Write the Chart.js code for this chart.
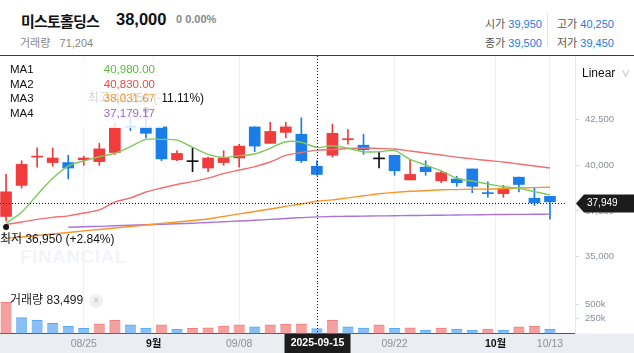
<!DOCTYPE html>
<html>
<head>
<meta charset="utf-8">
<script src="https://cdn.jsdelivr.net/npm/chart.js@4.4.1/dist/chart.umd.min.js"></script>
<style>
body { margin: 0; width: 634px; height: 353px; overflow: hidden; background: #fff; position: relative;
       font-family: "Liberation Sans", Arial, "Noto Sans CJK KR", sans-serif; }
.abs { position: absolute; white-space: nowrap; }
#name { left: 21px; top: 10px; font-size: 15px; font-weight: bold; color: #111; letter-spacing: -0.8px; }
#price { left: 116px; top: 10px; font-size: 16.5px; font-weight: bold; color: #111; }
#chg { left: 176px; top: 13px; font-size: 11px; font-weight: bold; color: #888; }
#tvol { left: 20px; top: 34px; font-size: 11px; color: #888; }
.ohlc { font-size: 11px; color: #555; }
.ohlc b { font-weight: normal; color: #1f7ae0; }
#sep { left: 547px; top: 13px; width: 1px; height: 33px; background: #e4e4e4; }
#topline { left: 0; top: 55px; width: 634px; height: 1px; background: #3a3a3a; }
#linear { left: 582px; top: 66px; font-size: 12px; color: #111; }
#linear span { color: #aaa; font-size: 9px; margin-left: 6px; }
#legend { left: 0; top: 60px; width: 163px; height: 68px; background: rgba(255,255,255,0.82); }
.ma { position: absolute; left: 10px; font-size: 11.5px; color: #111; }
.mav { position: absolute; right: 8px; font-size: 11.5px; }
#vlabel { left: 10px; top: 290px; font-size: 12px; color: #222; }
#vlabel i { font-style: normal; display: inline-block; width: 14px; height: 14px; line-height: 14px; text-align: center;
            border-radius: 7px; background: #f1f1f1; color: #bbb; font-size: 10px; margin-left: 6px; }
#wm { left: 20px; top: 246px; font-size: 19px; font-weight: bold; color: #f3f4f6; letter-spacing: 0.5px; }
canvas { position: absolute; left: 0; }
</style>
</head>
<body>
<div class="abs" id="name">미스토홀딩스</div>
<div class="abs" id="price"></div>
<div class="abs" id="chg">0 0.00%</div>
<div class="abs" id="tvol"></div>
<div class="abs ohlc" id="o1" style="left:485px;top:15px"></div>
<div class="abs ohlc" id="o2" style="left:485px;top:34px"></div>
<div class="abs" id="sep"></div>
<div class="abs ohlc" id="o3" style="left:557px;top:15px"></div>
<div class="abs ohlc" id="o4" style="left:557px;top:34px"></div>
<div class="abs" id="topline"></div>
<div class="abs" id="wm">FINANCIAL</div>
<canvas id="main" width="634" height="227" style="top:56px"></canvas>
<canvas id="vol" width="634" height="70" style="top:283px"></canvas>
<div class="abs" id="linear">Linear<span>&#8744;</span></div>
<div class="abs" id="legend"></div>
<div class="abs" id="vlabel"></div>
<script>
// trading days shown
const dates = ['2025-08-18', '2025-08-19', '2025-08-20', '2025-08-21', '2025-08-22',
    '2025-08-25', '2025-08-26', '2025-08-27', '2025-08-28', '2025-08-29',
    '2025-09-01', '2025-09-02', '2025-09-03', '2025-09-04', '2025-09-05',
    '2025-09-08', '2025-09-09', '2025-09-10', '2025-09-11', '2025-09-12',
    '2025-09-15', '2025-09-16', '2025-09-17', '2025-09-18', '2025-09-19',
    '2025-09-22', '2025-09-23', '2025-09-24', '2025-09-25', '2025-09-26',
    '2025-09-29', '2025-09-30', '2025-10-01', '2025-10-02', '2025-10-10', '2025-10-13'];

const open  = [37200, 38900, 40450, 40150, 40150, 40300, 40200, 40700, 42100, 42100, 42100, 40300, 40200, 39850, 40150, 40400, 42100, 41200, 41800, 41700,
               39950, 40550, 41400, 41100, 40350, 40550, 39200, 39900, 39150, 39250, 39800, 38500, 38450, 39350, 38200, 38300];
const close = [38550, 40050, 40500, 40400, 39850, 40400, 40900, 42050, 42080, 41750, 40350, 40650, 40200, 40400, 40400, 41050, 41050, 41850, 42100, 40250,
               39500, 41750, 41450, 40850, 40350, 39700, 39500, 39650, 39600, 39050, 38850, 38450, 38750, 38950, 37950, 38000];
const high  = [39500, 40250, 40950, 40950, 40550, 40500, 41200, 42300, 42650, 42750, 42100, 40800, 40950, 40450, 40800, 41150, 42100, 42350, 42350, 42600,
               40250, 42250, 41950, 41700, 40750, 40550, 40300, 40250, 39700, 39400, 39800, 39100, 38900, 39350, 38750, 38300];
const low   = [36950, 38750, 39900, 39950, 39250, 40000, 40000, 40600, 41900, 41500, 40250, 40250, 39650, 39650, 40000, 39900, 40750, 41200, 41500, 40150,
               39450, 40450, 41150, 40600, 39850, 39450, 39200, 39450, 39050, 38850, 38500, 38250, 38250, 38550, 37800, 37050];
const volume = [530000, 270000, 225000, 175000, 120000, 87000, 163000, 225000, 147000, 92000, 147000, 75000, 90000, 95000, 125000, 147000, 113000, 147000, 158000, 165000,
                83499, 225000, 113000, 92000, 147000, 88000, 95000, 58000, 92000, 75000, 58000, 75000, 58000, 113000, 125000, 71204];

// moving averages
const ma1 = [36830, 37430, 38380, 39290, 39960, 40240, 40470, 40660, 41020, 41420, 41420, 41380, 40990, 40600, 40430, 40530, 40620, 40930, 41290, 41260,
             40980, 41070, 40930, 40740, 40740, 40800, 40330, 40020, 39690, 39290, 39140, 38980, 38830, 38740, 38560, 38380];
const ma2 = [36760, 36900, 37040, 37150, 37230, 37390, 37560, 37990, 38210, 38540, 38760, 38950, 39110, 39300, 39550, 39740, 39930, 40180, 40540, 40700,
             40830, 40860, 40920, 40950, 40920, 40890, 40780, 40670, 40560, 40450, 40350, 40260, 40180, 40070, 39960, 39850];
const ma3 = [36000, 36080, 36160, 36240, 36320, 36410, 36490, 36570, 36650, 36730, 36820, 36900, 36980, 37060, 37200, 37340, 37470, 37610, 37750, 37880,
             38031.67, 38110, 38220, 38330, 38440, 38520, 38580, 38610, 38660, 38670, 38690, 38700, 38730, 38760, 38780, 38800];
const ma4 = [null, null, null, null, 36610, 36640, 36660, 36690, 36720, 36750, 36770, 36800, 36830, 36870, 36910, 36950, 36990, 37040, 37090, 37135,
             37179.17, 37195, 37210, 37220, 37230, 37240, 37250, 37260, 37270, 37280, 37290, 37300, 37310, 37315, 37320, 37330];

const maNames = ['MA1', 'MA2', 'MA3', 'MA4'];
const maColors = ['#5dbb3b', '#ef4848', '#f7941d', '#9d5fd4'];
const maLineColors = ['#7cc95e', '#f07070', '#f8962a', '#a973d8'];

const xTickPos  = [5, 9.5, 15, 25, 31.5, 35];
const xTickText = ['08/25', '9월', '09/08', '09/22', '10월', '10/13'];
const priceTicks = [35000, 37500, 40000, 42500];
const volTicks = [250000, 500000];
const volTickText = ['250k', '500k'];

const crossIdx = 20;
const crossPrice = 37949;

const xMin = -0.39, xMax = 36.61;
const yMin = 33560, yMax = 45980;
const volMax = 860000;

const UP = '#f03c3c', DOWN = '#1a7de8', FLAT = '#111';
const fmt = v => v.toLocaleString('en-US');
const fmt2 = v => v.toLocaleString('en-US', { minimumFractionDigits: 2, maximumFractionDigits: 2 });
const FONT = '"Liberation Sans", Arial, "Noto Sans CJK KR", sans-serif';
Chart.defaults.font.family = FONT;

// header texts
const last = close.length - 1;
document.getElementById('price').textContent = fmt(close[last]);
document.getElementById('tvol').innerHTML = '거래량&nbsp;&nbsp;&nbsp;' + fmt(volume[last]);
document.getElementById('o1').innerHTML = '시가 <b>' + fmt(open[crossIdx]) + '</b>';
document.getElementById('o2').innerHTML = '종가 <b>' + fmt(close[crossIdx]) + '</b>';
document.getElementById('o3').innerHTML = '고가 <b>' + fmt(high[crossIdx]) + '</b>';
document.getElementById('o4').innerHTML = '저가 <b>' + fmt(low[crossIdx]) + '</b>';
document.getElementById('vlabel').innerHTML = '거래량 ' + fmt(volume[crossIdx]) + '<i>&#215;</i>';

const legend = document.getElementById('legend');
[ma1, ma2, ma3, ma4].forEach((arr, k) => {
    const top = 3 + k * 14.5;
    legend.innerHTML += `<div class="ma" style="top:${top}px">${maNames[k]}</div>` +
        `<div class="mav" style="top:${top}px;color:${maColors[k]}">${fmt2(arr[crossIdx])}</div>`;
});

const candleColor = open.map((o, i) => close[i] > o ? UP : close[i] < o ? DOWN : FLAT);
const volColor = volume.map((v, i) => i === 0 || v >= volume[i - 1] ? '#f5a0a0' : '#88c0f5');
const volEdge = volume.map((v, i) => i === 0 || v >= volume[i - 1] ? '#ee8080' : '#5aa8f0');

const linePts = arr => arr.map((v, i) => ({ x: i, y: v })).filter(p => p.y !== null);
const isMonth = i => (xTickText[i] || '').endsWith('월');

// crosshair lines and labels
const crosshair = {
    id: 'crosshair',
    afterDraw(chart, args, opts) {
        const { ctx, chartArea: a, scales } = chart;
        const x = Math.round(scales.x.getPixelForValue(crossIdx)) + 0.5;
        ctx.save();
        ctx.strokeStyle = '#111';
        ctx.lineWidth = 1;
        ctx.setLineDash([1, 2]);
        ctx.beginPath();
        ctx.moveTo(x, a.top);
        ctx.lineTo(x, a.bottom);
        ctx.stroke();
        ctx.setLineDash([]);
        if (opts.price) {
            const y = Math.round(scales.y.getPixelForValue(crossPrice)) + 0.5;
            ctx.setLineDash([1, 2]);
            ctx.beginPath();
            ctx.moveTo(a.left, y);
            ctx.lineTo(a.right - 8, y);
            ctx.stroke();
            ctx.setLineDash([]);
            ctx.fillStyle = '#1c1c1c';
            ctx.beginPath();
            ctx.moveTo(a.right + 1, y);
            ctx.lineTo(a.right + 9, y - 9);
            ctx.lineTo(chart.width, y - 9);
            ctx.lineTo(chart.width, y + 9);
            ctx.lineTo(a.right + 9, y + 9);
            ctx.closePath();
            ctx.fill();
            ctx.fillStyle = '#fff';
            ctx.font = '10px ' + FONT;
            ctx.textBaseline = 'middle';
            ctx.fillText(fmt(crossPrice), a.right + 12, y);
        } else {
            ctx.fillStyle = '#1c1c1c';
            ctx.fillRect(x - 33, a.bottom + 0.5, 66, chart.height - a.bottom);
            ctx.fillStyle = '#fff';
            ctx.font = 'bold 10.5px ' + FONT;
            ctx.textAlign = 'center';
            ctx.textBaseline = 'middle';
            ctx.fillText(dates[crossIdx], x, a.bottom + 10);
        }
        ctx.restore();
    }
};

// highest / lowest markers
const markers = {
    id: 'markers',
    afterDatasetsDraw(chart) {
        const { ctx, scales } = chart;
        const lo = Math.min(...low), li = low.indexOf(lo);
        const hi = Math.max(...high), hiIdx = high.indexOf(hi);
        const cur = close[last];
        const pct = v => { const p = (cur / v - 1) * 100; return (p >= 0 ? '+' : '') + p.toFixed(2) + '%'; };
        ctx.save();
        ctx.font = '12px ' + FONT;
        ctx.textBaseline = 'middle';
        ctx.fillStyle = '#111';
        [[li, lo, '최저', 6, 13], [hiIdx, hi, '최고', -5, -11]].forEach(([i, v, name, dy, ty]) => {
            const x = scales.x.getPixelForValue(i);
            const y = scales.y.getPixelForValue(v) + dy;
            ctx.beginPath();
            ctx.arc(x, y, 3, 0, Math.PI * 2);
            ctx.fill();
            const txt = name + ' ' + fmt(v) + ' (' + pct(v) + ')';
            const w = ctx.measureText(txt).width;
            ctx.fillText(txt, Math.max(0, x - w / 2), y + ty);
        });
        ctx.restore();
    }
};

const band = {
    id: 'band',
    beforeDraw(chart) {
        const { ctx, chartArea: a } = chart;
        ctx.save();
        ctx.fillStyle = '#eaedf1';
        ctx.fillRect(0, a.bottom, chart.width, chart.height - a.bottom);
        ctx.restore();
    }
};

const fitY = s => { s.width = 59; s.paddingTop = 0; s.paddingBottom = 0; };

new Chart(document.getElementById('main'), {
    type: 'bar',
    data: {
        datasets: [
            ...[ma1, ma2, ma3, ma4].map((arr, k) => ({
                type: 'line', label: maNames[k], data: linePts(arr), borderColor: maLineColors[k],
                borderWidth: 1.4, pointRadius: 0, tension: 0.3, order: 0
            })),
            {
                label: 'wick', data: open.map((o, i) => ({ x: i, y: [low[i], high[i]] })),
                backgroundColor: candleColor, barThickness: 1, grouped: false, order: 2
            },
            {
                label: 'body', data: open.map((o, i) => ({ x: i, y: [o, close[i]] })),
                backgroundColor: candleColor, barThickness: 11, minBarLength: 1, grouped: false, order: 1
            }
        ]
    },
    options: {
        responsive: false,
        animation: false,
        layout: { padding: 0 },
        plugins: { legend: { display: false }, tooltip: { enabled: false }, crosshair: { price: true } },
        scales: {
            x: {
                type: 'linear', min: xMin, max: xMax, offset: false,
                afterBuildTicks: s => { s.ticks = xTickPos.map(v => ({ value: v })); },
                ticks: { display: false },
                grid: { color: '#eef0f3', drawTicks: false, offset: false },
                border: { color: '#e3e5e8' },
                afterFit: s => { s.height = 0; s.paddingLeft = 0; s.paddingRight = 0; }
            },
            y: {
                position: 'right', min: yMin, max: yMax,
                afterBuildTicks: s => { s.ticks = priceTicks.map(v => ({ value: v })); },
                ticks: { color: '#8b919b', font: { size: 9.5 }, padding: 6, callback: v => fmt(v) },
                grid: { drawOnChartArea: false, tickLength: 4, color: '#d8dbe0' },
                border: { color: '#e6e8eb' },
                afterFit: fitY
            }
        }
    },
    plugins: [crosshair, markers]
});

new Chart(document.getElementById('vol'), {
    type: 'bar',
    data: {
        datasets: [{
            label: '거래량', data: volume.map((v, i) => ({ x: i, y: v })),
            backgroundColor: volColor, borderColor: volEdge,
            borderWidth: { top: 1, left: 0, right: 0, bottom: 0 }, borderSkipped: false, barThickness: 11
        }]
    },
    options: {
        responsive: false,
        animation: false,
        layout: { padding: 0 },
        plugins: { legend: { display: false }, tooltip: { enabled: false }, crosshair: { price: false } },
        scales: {
            x: {
                type: 'linear', min: xMin, max: xMax, offset: false,
                afterBuildTicks: s => { s.ticks = xTickPos.map(v => ({ value: v })); },
                ticks: {
                    autoSkip: false, maxRotation: 0, padding: 4,
                    color: c => isMonth(c.index) ? '#111' : '#8b919b',
                    font: c => ({ size: 10.5, weight: isMonth(c.index) ? 'bold' : 'normal' }),
                    callback: (v, i) => xTickText[i]
                },
                grid: { color: '#eef0f3', drawTicks: false, offset: false },
                border: { color: '#555' },
                afterFit: s => { s.height = 19.5; s.paddingLeft = 0; s.paddingRight = 0; }
            },
            y: {
                position: 'right', min: 0, max: volMax,
                afterBuildTicks: s => { s.ticks = volTicks.map(v => ({ value: v })); },
                ticks: { color: '#8b919b', font: { size: 9.5 }, padding: 6, callback: (v, i) => volTickText[i] },
                grid: { drawOnChartArea: false, tickLength: 4, color: '#d8dbe0' },
                border: { color: '#e6e8eb' },
                afterFit: fitY
            }
        }
    },
    plugins: [band, crosshair]
});
</script>
</body>
</html>
